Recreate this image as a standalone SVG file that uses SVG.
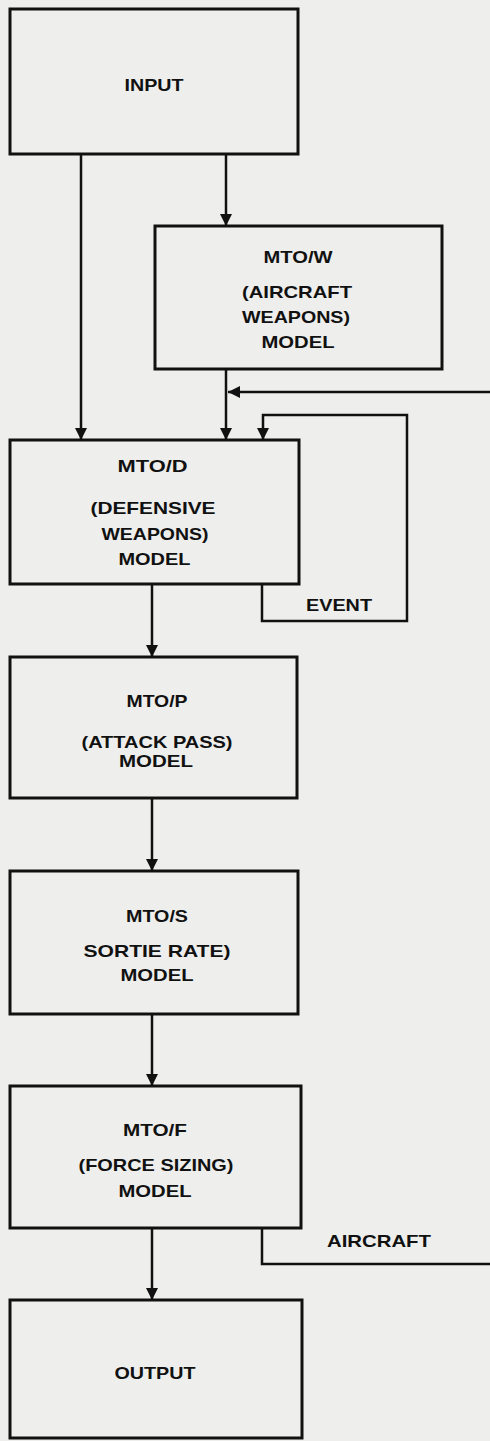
<svg xmlns="http://www.w3.org/2000/svg" width="490" height="1441" viewBox="0 0 490 1441">
<style>
.box{fill:none;stroke:#111;stroke-width:3}
.con{fill:none;stroke:#111;stroke-width:2.5}
text{font-family:"Liberation Sans",Arial,sans-serif;font-weight:bold;font-size:17px;fill:#111;text-anchor:middle}
</style>
<defs>
<marker id="arr" markerUnits="userSpaceOnUse" markerWidth="12" markerHeight="12" refX="12" refY="6" orient="auto">
<path d="M0,0 L12,6 L0,12 z" fill="#111"/>
</marker>
</defs>
<rect width="490" height="1441" fill="#eeeeec"/>
<g id="input">
<rect class="box" x="10" y="9" width="288" height="145"/>
<text x="154" y="91" textLength="59" lengthAdjust="spacingAndGlyphs">INPUT</text>
</g>
<g id="mtow">
<rect class="box" x="155" y="226" width="287" height="143"/>
<text x="298" y="263" textLength="69" lengthAdjust="spacingAndGlyphs">MTO/W</text>
<text x="297" y="298" textLength="110" lengthAdjust="spacingAndGlyphs">(AIRCRAFT</text>
<text x="296" y="323" textLength="108" lengthAdjust="spacingAndGlyphs">WEAPONS)</text>
<text x="298" y="348" textLength="73" lengthAdjust="spacingAndGlyphs">MODEL</text>
</g>
<g id="mtod">
<rect class="box" x="10" y="440" width="289" height="144"/>
<text x="152.5" y="472" textLength="70" lengthAdjust="spacingAndGlyphs">MTO/D</text>
<text x="153" y="514" textLength="125" lengthAdjust="spacingAndGlyphs">(DEFENSIVE</text>
<text x="155" y="540" textLength="107" lengthAdjust="spacingAndGlyphs">WEAPONS)</text>
<text x="154.5" y="565" textLength="72" lengthAdjust="spacingAndGlyphs">MODEL</text>
</g>
<g id="mtop">
<rect class="box" x="10" y="657" width="287" height="141"/>
<text x="157" y="707" textLength="61" lengthAdjust="spacingAndGlyphs">MTO/P</text>
<text x="157" y="748" textLength="151" lengthAdjust="spacingAndGlyphs">(ATTACK PASS)</text>
<text x="156" y="767" textLength="74" lengthAdjust="spacingAndGlyphs">MODEL</text>
</g>
<g id="mtos">
<rect class="box" x="10" y="871" width="288" height="143"/>
<text x="157" y="922" textLength="62" lengthAdjust="spacingAndGlyphs">MTO/S</text>
<text x="157" y="957" textLength="147" lengthAdjust="spacingAndGlyphs">SORTIE RATE)</text>
<text x="157" y="981" textLength="73" lengthAdjust="spacingAndGlyphs">MODEL</text>
</g>
<g id="mtof">
<rect class="box" x="10" y="1086" width="291" height="142"/>
<text x="155" y="1136" textLength="64" lengthAdjust="spacingAndGlyphs">MTO/F</text>
<text x="156" y="1171" textLength="155" lengthAdjust="spacingAndGlyphs">(FORCE SIZING)</text>
<text x="155" y="1197" textLength="73" lengthAdjust="spacingAndGlyphs">MODEL</text>
</g>
<g id="output">
<rect class="box" x="10" y="1300" width="292" height="138"/>
<text x="155" y="1379" textLength="81" lengthAdjust="spacingAndGlyphs">OUTPUT</text>
</g>
<g id="connectors">
<path class="con" d="M81,154 V440" marker-end="url(#arr)"/>
<path class="con" d="M226,154 V226" marker-end="url(#arr)"/>
<path class="con" d="M226,369 V440" marker-end="url(#arr)"/>
<path class="con" d="M490,392 H228" marker-end="url(#arr)"/>
<path class="con" d="M262,584 V621 H407 V415 H263 V440" marker-end="url(#arr)"/>
<text x="339" y="611" textLength="66" lengthAdjust="spacingAndGlyphs">EVENT</text>
<path class="con" d="M152,584 V657" marker-end="url(#arr)"/>
<path class="con" d="M152,798 V871" marker-end="url(#arr)"/>
<path class="con" d="M152,1014 V1086" marker-end="url(#arr)"/>
<path class="con" d="M152,1228 V1300" marker-end="url(#arr)"/>
<path class="con" d="M262,1228 V1264 H490"/>
<text x="379" y="1247" textLength="104" lengthAdjust="spacingAndGlyphs">AIRCRAFT</text>
</g>
</svg>
